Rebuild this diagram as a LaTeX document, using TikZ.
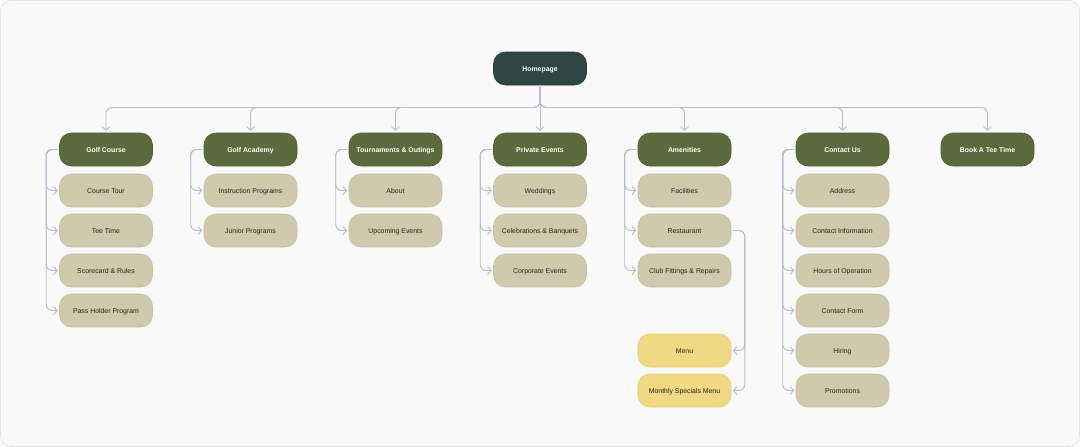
\documentclass[tikz,border=0pt]{standalone}
\usepackage{fontspec}
\setmainfont{Liberation Sans}
\usetikzlibrary{arrows.meta}
\definecolor{bgc}{HTML}{F9F9F9}
\definecolor{bgline}{HTML}{E4E4E4}
\definecolor{homec}{HTML}{2F4744}
\definecolor{homeline}{HTML}{263A37}
\definecolor{secc}{HTML}{5B6B3D}
\definecolor{secline}{HTML}{4E5D33}
\definecolor{subc}{HTML}{CFCAAB}
\definecolor{subline}{HTML}{C5C09E}
\definecolor{yelc}{HTML}{EFD982}
\definecolor{yelline}{HTML}{E3CC72}
\definecolor{conc}{HTML}{B7BBCA}
\definecolor{txtc}{HTML}{222222}
\tikzset{
  x=1pt,y=-1pt,
  box/.style={rounded corners=12pt,minimum width=93pt,minimum height=33pt,inner sep=0pt,align=center,text height=5pt,text depth=0pt,font=\fontsize{6.9}{8}\selectfont,line width=0.6pt},
  homebox/.style={box,fill=homec,draw=homeline,text=white,font=\fontsize{6.9}{8}\selectfont\bfseries},
  secbox/.style={box,fill=secc,draw=secline,text=white,font=\fontsize{6.9}{8}\selectfont\bfseries},
  subbox/.style={box,fill=subc,draw=subline,text=txtc},
  yelbox/.style={box,fill=yelc,draw=yelline,text=txtc},
  conn/.style={draw=conc,line width=0.9pt,rounded corners=6pt,-{Straight Barb[length=3.5pt,width=8pt,line width=0.9pt]}},
}
\begin{document}
\begin{tikzpicture}
\useasboundingbox (0,0) rectangle (1080,447);
\fill[white] (0,0) rectangle (1080,447);
\draw[fill=bgc,draw=bgline,line width=0.6pt,rounded corners=10pt] (0.5,0.5) rectangle (1079.5,446.5);

\node[homebox] (home) at (540,68.5) {Homepage};

\node[secbox] (gc) at (106,149.5) {Golf Course};
\node[secbox] (ga) at (250.5,149.5) {Golf Academy};
\node[secbox] (to) at (395.5,149.5) {Tournaments \& Outings};
\node[secbox] (pe) at (540,149.5) {Private Events};
\node[secbox] (am) at (684.5,149.5) {Amenities};
\node[secbox] (cu) at (842.5,149.5) {Contact Us};
\node[secbox] (bt) at (987.5,149.5) {Book A Tee Time};

\node[subbox] (gc1) at (106,190.5) {Course Tour};
\node[subbox] (gc2) at (106,230.5) {Tee Time};
\node[subbox] (gc3) at (106,270.5) {Scorecard \& Rules};
\node[subbox] (gc4) at (106,310.5) {Pass Holder Program};

\node[subbox] (ga1) at (250.5,190.5) {Instruction Programs};
\node[subbox] (ga2) at (250.5,230.5) {Junior Programs};

\node[subbox] (to1) at (395.5,190.5) {About};
\node[subbox] (to2) at (395.5,230.5) {Upcoming Events};

\node[subbox] (pe1) at (540,190.5) {Weddings};
\node[subbox] (pe2) at (540,230.5) {Celebrations \& Banquets};
\node[subbox] (pe3) at (540,270.5) {Corporate Events};

\node[subbox] (am1) at (684.5,190.5) {Facilities};
\node[subbox] (am2) at (684.5,230.5) {Restaurant};
\node[subbox] (am3) at (684.5,270.5) {Club Fittings \& Repairs};
\node[yelbox] (me1) at (684.5,350.5) {Menu};
\node[yelbox] (me2) at (684.5,390.5) {Monthly Specials Menu};

\node[subbox] (cu1) at (842.5,190.5) {Address};
\node[subbox] (cu2) at (842.5,230.5) {Contact Information};
\node[subbox] (cu3) at (842.5,270.5) {Hours of Operation};
\node[subbox] (cu4) at (842.5,310.5) {Contact Form};
\node[subbox] (cu5) at (842.5,350.5) {Hiring};
\node[subbox] (cu6) at (842.5,390.5) {Promotions};

% top level connectors
\coordinate (hub) at (540,107.5);
\foreach \n in {gc,ga,to,am,cu,bt}{
  \draw[conn,shorten >=2pt] (home.south) -- (hub) -| (\n.north);
}
\draw[conn,shorten >=2pt] (home.south) -- (pe.north);

% side connectors
\foreach \p/\kids in {gc/{gc1,gc2,gc3,gc4},ga/{ga1,ga2},to/{to1,to2},pe/{pe1,pe2,pe3},am/{am1,am2,am3},cu/{cu1,cu2,cu3,cu4,cu5,cu6}}{
  \foreach \k in \kids {
    \draw[conn,shorten >=1.5pt] ([xshift=-1.5pt]\p.west) -- ++(-11.5,0) |- (\k.west);
  }
}
% restaurant to menus
\foreach \k in {me1,me2}{
  \draw[conn,shorten >=1.5pt] ([xshift=1.5pt]am2.east) -- ++(12,0) |- (\k.east);
}
\end{tikzpicture}
\end{document}
